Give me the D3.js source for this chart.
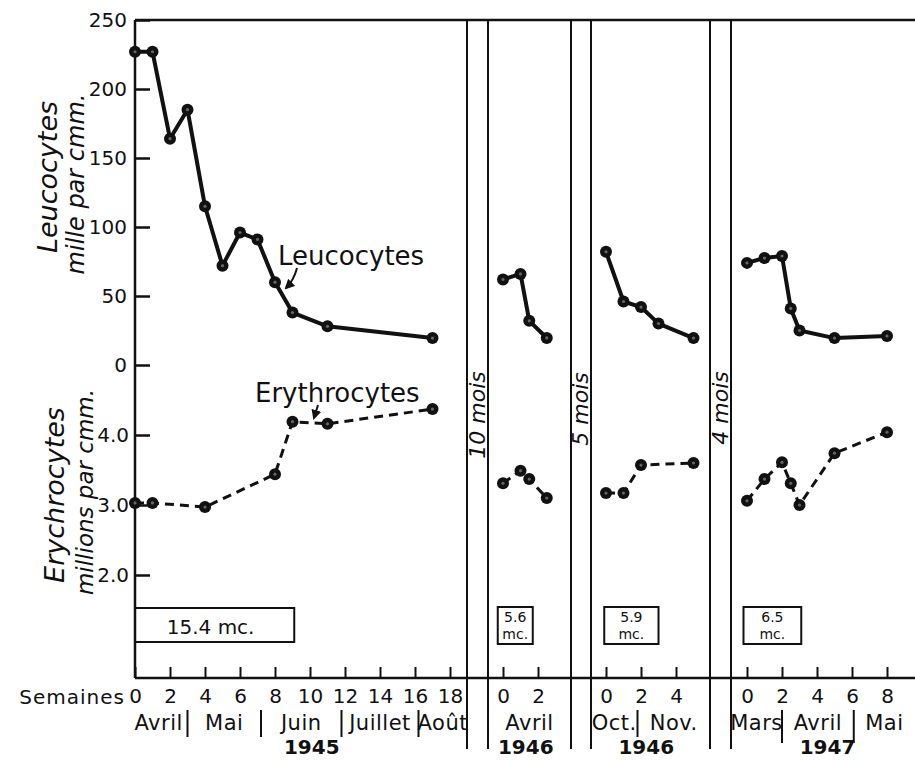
<!DOCTYPE html>
<html>
<head>
<meta charset="utf-8">
<script src="https://cdn.jsdelivr.net/npm/d3@7"></script>
<style>
body { margin: 0; background: #fff; }
svg { display: block; }
text { font-family: "DejaVu Sans", sans-serif; fill: #111; }
</style>
</head>
<body>
<script>
// leucocytes (mille par cmm) and erythrocytes (millions par cmm), per period
const weeks1945 = [0, 1, 2, 3, 4, 5, 6, 7, 8, 9, 11, 17];
const leuco1945 = [227, 227, 164, 185, 115, 72, 96, 91, 60, 38, 28, 19.5];
const eryWeeks1945 = [0, 1, 4, 8, 9, 11, 17];
const ery1945 = [3.03, 3.03, 2.97, 3.44, 4.19, 4.16, 4.37];

const weeksAvr46 = [0, 1, 1.5, 2.5];
const leucoAvr46 = [62, 66, 32, 19.6];
const eryAvr46 = [3.31, 3.49, 3.37, 3.1];

const weeksOct46 = [0, 1, 2, 3, 5];
const leucoOct46 = [82, 46, 42, 30, 19.5];
const eryWeeksOct46 = [0, 1, 2, 5];
const eryOct46 = [3.17, 3.17, 3.57, 3.6];

const weeksMar47 = [0, 1, 2, 2.5, 3, 5, 8];
const leucoMar47 = [74, 77.5, 79, 41, 25, 19.5, 21];
const eryMar47 = [3.06, 3.37, 3.61, 3.31, 3.0, 3.74, 4.04];

// axis labels
const leucoTicks = [0, 50, 100, 150, 200, 250];
const eryTicks = [2, 3, 4];
const weekTicks = [[0, 2, 4, 6, 8, 10, 12, 14, 16, 18], [0, 2], [0, 2, 4], [0, 2, 4, 6, 8]];
const monthNames = [["Avril", "Mai", "Juin", "Juillet", "Août"], ["Avril"], ["Oct.", "Nov."], ["Mars", "Avril", "Mai"]];
const monthBreaks = [[3, 7.2, 11.8, 16.2], [], [1.8], [2, 6.1]];
const years = ["1945", "1946", "1946", "1947"];
const yearWeek = [10.1, 1.3, 2.3, 4.6];
const doses = ["15.4 mc.", "5.6 mc.", "5.9 mc.", "6.5 mc."];
const doseSpan = [[0, 9.1], [-0.3, 1.7], [-0.1, 3.0], [-0.2, 3.1]];
const gapLabels = ["10 mois", "5 mois", "4 mois"];

const width = 915, height = 760;
const axisX = 135, topY = 20, baseY = 678;
const pxWeek = 17.5;
const panelX0 = [135, 503, 606, 747];
const gaps = [[467, 488], [571, 591], [710, 731]];

const svg = d3.select("body").append("svg")
    .attr("width", width)
    .attr("height", height);

const yL = d3.scaleLinear().domain([0, 250]).range([365, topY]);
const yE = d3.scaleLinear().domain([2, 5]).range([575, 365]);

let xs = panelX0.map(x0 => d3.scaleLinear().domain([0, 1]).range([x0, x0 + pxWeek]));

// frame
svg.append("line").attr("x1", axisX).attr("x2", width).attr("y1", topY).attr("y2", topY)
    .attr("stroke", "#111").attr("stroke-width", 2.5);
svg.append("line").attr("x1", axisX).attr("x2", axisX).attr("y1", topY).attr("y2", baseY)
    .attr("stroke", "#111").attr("stroke-width", 2.5);
svg.append("line").attr("x1", axisX).attr("x2", width).attr("y1", baseY).attr("y2", baseY)
    .attr("stroke", "#111").attr("stroke-width", 2.5);

gaps.forEach((g, i) => {
    g.forEach(x => {
        svg.append("line").attr("x1", x).attr("x2", x).attr("y1", topY).attr("y2", 749)
            .attr("stroke", "#111").attr("stroke-width", 2);
    })
    let cy = [415, 409, 408][i];
    svg.append("text")
        .attr("transform", "translate(" + (g[1] - 3) + "," + cy + ") rotate(-90)")
        .attr("text-anchor", "middle")
        .style("font-size", "22px")
        .style("font-style", "italic")
        .text(gapLabels[i]);
})

// y axes
function styleAxis(g){
    g.select(".domain").remove();
    g.selectAll(".tick line").attr("stroke", "#111").attr("stroke-width", 2.5);
    g.selectAll(".tick text").style("font-size", "20px").attr("fill", "#111")
        .style("font-family", "DejaVu Sans, sans-serif");
}
svg.append("g").attr("transform", "translate(" + axisX + ",0)")
    .call(d3.axisLeft(yL).tickValues(leucoTicks).tickSize(-15).tickPadding(8))
    .call(styleAxis);
svg.append("g").attr("transform", "translate(" + axisX + ",0)")
    .call(d3.axisLeft(yE).tickValues(eryTicks).tickSize(-15).tickPadding(6).tickFormat(d3.format(".1f")))
    .call(styleAxis);

// y titles
function vtitle(x, y, size, txt){
    svg.append("text")
        .attr("transform", "translate(" + x + "," + y + ") rotate(-90)")
        .attr("text-anchor", "middle")
        .style("font-size", size + "px")
        .style("font-style", "italic")
        .text(txt);
}
vtitle(57, 177, 27, "Leucocytes");
vtitle(84, 184, 24, "mille par cmm.");
vtitle(64, 495, 27, "Erychrocytes");
vtitle(93, 492, 23, "millions par cmm.");

// bottom axes, months, years, doses
svg.append("text").attr("x", 125).attr("y", 704).attr("text-anchor", "end")
    .style("font-size", "20px").style("letter-spacing", "1px").text("Semaines");

for (let i = 0; i < 4; i++){
    let x = xs[i];
    let g = svg.append("g").attr("transform", "translate(0," + baseY + ")")
        .call(d3.axisBottom(x).tickValues(weekTicks[i]).tickSize(-11).tickPadding(11).tickFormat(d3.format("d")));
    g.select(".domain").remove();
    g.selectAll(".tick line").attr("stroke", "#111").attr("stroke-width", 2);
    g.selectAll(".tick text").style("font-size", "20px").attr("fill", "#111")
        .style("font-family", "DejaVu Sans, sans-serif");

    // months between panel edges and breaks
    let left = i == 0 ? axisX : gaps[i - 1][1];
    let right = i < 3 ? gaps[i][0] : width;
    let edges = [x.invert(left)].concat(monthBreaks[i]).concat([x.invert(right)]);
    if (i == 0) edges[0] = -0.3;
    monthNames[i].forEach((m, j) => {
        svg.append("text")
            .attr("x", x((edges[j] + edges[j + 1]) / 2))
            .attr("y", 730)
            .attr("text-anchor", "middle")
            .style("font-size", "21px")
            .style("letter-spacing", "0.5px")
            .text(m);
    })
    monthBreaks[i].forEach(b => {
        svg.append("line").attr("x1", x(b)).attr("x2", x(b))
            .attr("y1", 710).attr("y2", i == 3 ? 743 : 737)
            .attr("stroke", "#111").attr("stroke-width", 2);
    })
    svg.append("text")
        .attr("x", x(yearWeek[i]))
        .attr("y", 754)
        .attr("text-anchor", "middle")
        .style("font-size", "20px")
        .style("font-weight", "bold")
        .text(years[i]);

    // dose box
    let bx0 = x(doseSpan[i][0]), bx1 = x(doseSpan[i][1]);
    let by0 = i == 0 ? 608 : 607, by1 = i == 0 ? 642 : 644;
    svg.append("rect").attr("x", bx0).attr("y", by0)
        .attr("width", bx1 - bx0).attr("height", by1 - by0)
        .attr("fill", "none").attr("stroke", "#111").attr("stroke-width", 2);
    if (i == 0){
        svg.append("text").attr("x", (bx0 + bx1) / 2 - 4).attr("y", 634)
            .attr("text-anchor", "middle").style("font-size", "20px").text(doses[i]);
    } else {
        let parts = doses[i].split(" ");
        parts.forEach((p, k) => {
            svg.append("text").attr("x", (bx0 + bx1) / 2).attr("y", 622 + k * 17)
                .attr("text-anchor", "middle").style("font-size", "14px").text(p);
        })
    }
}

// series
const leucoSets = [[weeks1945, leuco1945], [weeksAvr46, leucoAvr46], [weeksOct46, leucoOct46], [weeksMar47, leucoMar47]];
const erySets = [[eryWeeks1945, ery1945], [weeksAvr46, eryAvr46], [eryWeeksOct46, eryOct46], [weeksMar47, eryMar47]];

function drawSeries(sets, yScale, dashed){
    sets.forEach((s, i) => {
        let pts = s[0].map((w, k) => [xs[i](w), yScale(s[1][k])]);
        svg.append("path")
            .attr("d", d3.line()(pts))
            .attr("fill", "none")
            .attr("stroke", "#111")
            .attr("stroke-width", dashed ? 3 : 4)
            .attr("stroke-dasharray", dashed ? "9,6" : null)
            .attr("stroke-linejoin", "round");
        pts.forEach(p => {
            svg.append("circle").attr("cx", p[0]).attr("cy", p[1]).attr("r", 6).attr("fill", "#111");
            svg.append("circle").attr("cx", p[0]).attr("cy", p[1]).attr("r", 1.6).attr("fill", "#666");
        })
    })
}
drawSeries(leucoSets, yL, false);
drawSeries(erySets, yE, true);

// labels with arrows
svg.append("defs").append("marker")
    .attr("id", "ah").attr("viewBox", "0 0 10 10").attr("refX", 8).attr("refY", 5)
    .attr("markerWidth", 5).attr("markerHeight", 5).attr("orient", "auto")
    .append("path").attr("d", "M0,0 L10,5 L0,10 z").attr("fill", "#111");

svg.append("text").attr("x", 278).attr("y", 265).style("font-size", "26px").text("Leucocytes");
svg.append("path").attr("d", "M297,268 Q294,280 286,288")
    .attr("fill", "none").attr("stroke", "#111").attr("stroke-width", 2).attr("marker-end", "url(#ah)");

svg.append("text").attr("x", 255).attr("y", 402).style("font-size", "26px").text("Erythrocytes");
svg.append("path").attr("d", "M318,405 L314,418")
    .attr("fill", "none").attr("stroke", "#111").attr("stroke-width", 2).attr("marker-end", "url(#ah)");
</script>
</body>
</html>
